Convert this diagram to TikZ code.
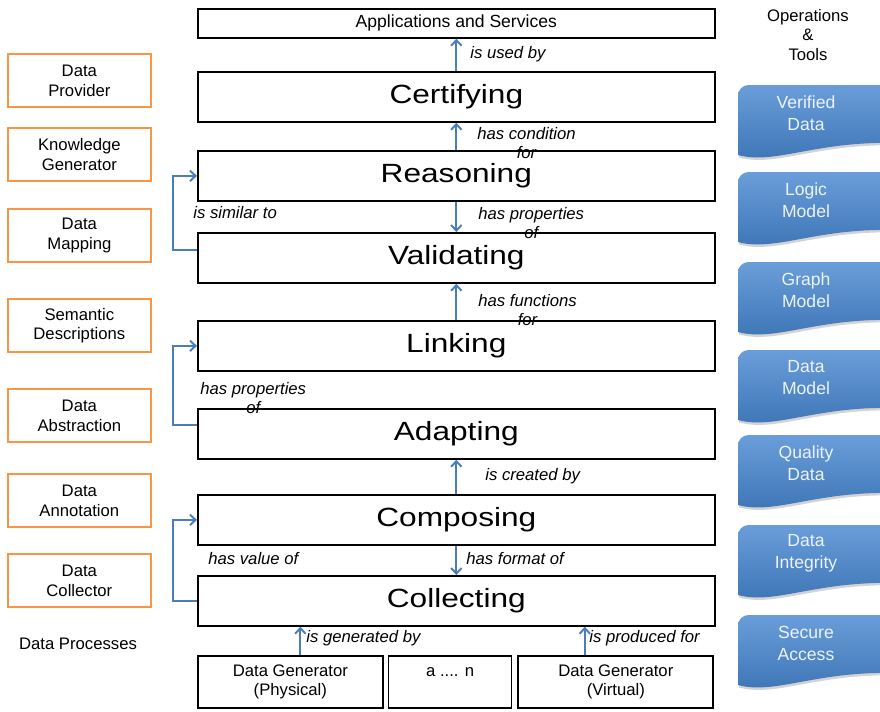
\documentclass[tikz,border=0pt]{standalone}
\usepackage{fontspec}
\setmainfont{Liberation Sans}
\newfontfamily\stagefont[FakeStretch=1.2]{Liberation Sans}
\usetikzlibrary{arrows.meta, positioning, calc, shadows}
\definecolor{flowblue}{HTML}{4A7EBB}
\definecolor{roleorange}{HTML}{F79646}
\definecolor{doctop}{HTML}{6A9EDA}
\definecolor{docbot}{HTML}{3B73B4}
\tikzset{
  stage/.style={rectangle, draw=black, line width=1pt, anchor=north west, inner sep=0pt,
                minimum width=10.34cm, minimum height=1cm,
                font=\stagefont\fontsize{15}{17}\selectfont},
  gen/.style={rectangle, draw=black, line width=1pt, inner sep=0pt, align=center,
              minimum height=1.04cm, font=\fontsize{9.5}{11.3}\selectfont},
  role/.style={rectangle, draw=roleorange, line width=1pt, anchor=north west, inner sep=0pt,
               minimum width=2.86cm, minimum height=1.07cm, align=center,
               font=\fontsize{9.5}{11.3}\selectfont},
  rel/.style={anchor=west, inner sep=0pt, align=center,
              font=\itshape\fontsize{9.5}{11.3}\selectfont},
  docshape/.style={top color=doctop, bottom color=docbot,
                   drop shadow={shadow xshift=0.6pt, shadow yshift=-1.4pt, opacity=0.35}},
  doctext/.style={align=center, text=white!88!doctop, inner sep=0pt,
                  font=\fontsize{10}{12.5}\selectfont},
  flow/.style={-{Straight Barb[length=3.2pt, width=6pt]}, draw=flowblue, line width=1.1pt}
}
\begin{document}
\begin{tikzpicture}[x=0.02cm, y=-0.02cm, node distance=0.08cm]
  \useasboundingbox (0,0) rectangle (880,711);
  \begin{scope}
    \clip (0,0) rectangle (880,711);
    \foreach \n/\a/\b/\y in {ver/Verified/Data/85, logic/Logic/Model/172, graph/Graph/Model/262,
        dmod/Data/Model/350, qual/Quality/Data/435, integ/Data/Integrity/525, secure/Secure/Access/615} {
      \path[docshape] (738,\y+70) [rounded corners=6pt] -- (738,\y) -- (895,\y) [sharp corners]
        -- (895,\y+58) .. controls (815,\y+56) and (775,\y+80) .. cycle;
      \node[doctext] (\n) at (806,\y+28) {\a\\\b};
    }
  \end{scope}
  \node[align=center, inner sep=0pt, font=\fontsize{9.5}{11.3}\selectfont] (ops) at (808,35)
       {Operations\\\&\\Tools};

  \node[stage, minimum height=0.58cm, font=\fontsize{10}{12}\selectfont] (apps) at (197,8)
       {Applications and Services};
  \foreach \n/\t/\y in {cert/Certifying/71, reas/Reasoning/150, vali/Validating/232, link/Linking/320,
      adap/Adapting/408, comp/Composing/494, coll/Collecting/575}
    \node[stage] (\n) at (197,\y) {\t};

  \node[gen, anchor=north west, minimum width=3.7cm] (phys) at (197,655) {Data Generator\\(Physical)};
  \node[gen, right=of phys, minimum width=2.46cm] (dots) {a .... n\\~};
  \node[gen, right=0.1cm of dots, minimum width=3.9cm] (virt) {Data Generator\\(Virtual)};

  \foreach \n/\a/\b/\y in {prov/Data/Provider/53, know/Knowledge/Generator/127, map/Data/Mapping/208,
      sem/Semantic/Descriptions/298, abs/Data/Abstraction/388, ann/Data/Annotation/473,
      col/Data/Collector/553}
    \node[role] (\n) at (7,\y) {\a\\\b};
  \node[inner sep=0pt, font=\fontsize{9.5}{11.3}\selectfont] (proc) at (78,644) {Data Processes};

  \draw[flow] (cert.north) -- (apps.south);
  \draw[flow] (reas.north) -- (cert.south);
  \draw[flow] (reas.south) -- (vali.north);
  \draw[flow] (link.north) -- (vali.south);
  \draw[flow] (comp.north) -- (adap.south);
  \draw[flow] (comp.south) -- (coll.north);
  \draw[flow] ([xshift=0.2cm]phys.north) -- ([xshift=0.2cm]phys.north |- coll.south);
  \draw[flow] ([xshift=-0.62cm]virt.north) -- ([xshift=-0.62cm]virt.north |- coll.south);
  \draw[flow] ([yshift=0.15cm]vali.west) -- ++(-24,0) |- (reas.west);
  \draw[flow] ([yshift=0.17cm]adap.west) -- ++(-24,0) |- (link.west);
  \draw[flow] (coll.west) -- ++(-24,0) |- (comp.west);

  \foreach \n/\x/\y/\t in {used/470/54/{is used by}, cond/477/143/{has condition\\for},
      propr/478/223/{has properties\\of}, func/478/310/{has functions\\for},
      creat/485/476/{is created by}, form/466/559/{has format of},
      gener/306/638/{is generated by}, produ/589/638/{is produced for},
      simil/193/213/{is similar to}, propl/200/398/{has properties\\of},
      value/208/559/{has value of}}
    \node[rel] (\n) at (\x,\y) {\t};
\end{tikzpicture}
\end{document}
